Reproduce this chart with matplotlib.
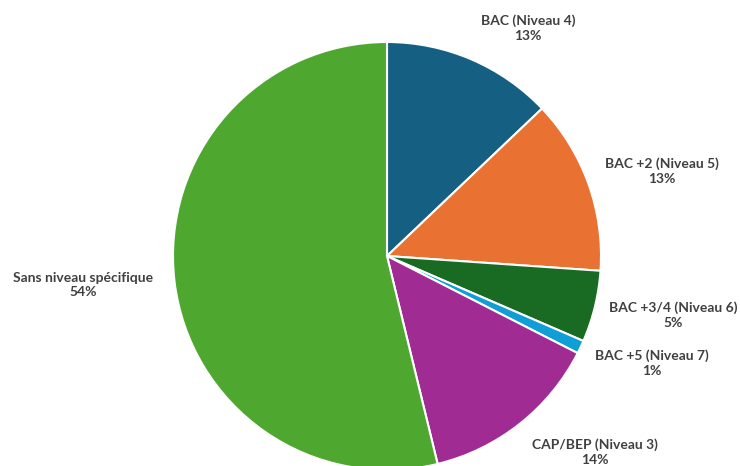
import numpy as np
import matplotlib
matplotlib.use("Agg")
import matplotlib.pyplot as plt

# parts, clockwise from the top
labels = ["BAC (Niveau 4)", "BAC +2 (Niveau 5)", "BAC +3/4 (Niveau 6)",
          "BAC +5 (Niveau 7)", "CAP/BEP (Niveau 3)", "Sans niveau spécifique"]
values = [12.9, 13.2, 5.4, 1.0, 13.7, 53.8]
colors = ["#156082", "#E97132", "#196B24", "#0F9ED5", "#A02B93", "#4EA72E"]

# label centres in pixels
label_px = [(528, 28), (662, 171), (673, 315), (652, 363), (595, 452), (83, 285)]

W, H = 740, 466
cx, cy, r = 387, 256, 214

fig = plt.figure(figsize=(W / 100, H / 100), dpi=100)
ax = fig.add_axes([(cx - r) / W, (H - cy - r) / H, 2 * r / W, 2 * r / H])
ax.pie(values, colors=colors, startangle=90, counterclock=False, radius=1,
       wedgeprops=dict(edgecolor="white", linewidth=1.5))
ax.set_xlim(-1, 1)
ax.set_ylim(-1, 1)
ax.axis("off")

for lab, v, (px, py) in zip(labels, values, label_px):
    ax.text((px - cx) / r, (cy - py) / r, f"{lab}\n{round(v)}%",
            ha="center", va="center", fontsize=10, fontweight="bold",
            family="Lato", color="#404040", linespacing=1.3, clip_on=False)

fig.savefig("out.png", dpi=100)
